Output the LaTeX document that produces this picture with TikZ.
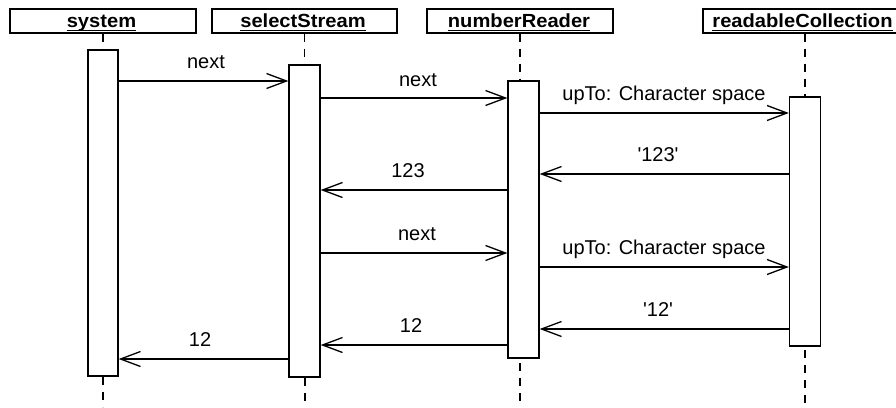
\documentclass[tikz,border=0pt]{standalone}
\usepackage{fontspec}
\setmainfont{Liberation Sans}
\usetikzlibrary{arrows.meta}
\tikzset{
  head/.style={draw, line width=1.4pt, minimum height=24pt, inner sep=0pt, fill=white},
  headtext/.style={inner sep=0pt, anchor=base, font=\fontsize{19}{21}\selectfont\bfseries},
  act/.style={draw, line width=1.3pt, minimum width=31pt, inner sep=0pt, fill=white},
  life/.style={line width=1.1pt, dash pattern=on 8pt off 7pt},
  msg/.style={line width=1.3pt, -{Straight Barb[length=20pt,width=15pt,line width=1.3pt]}},
  lbl/.style={inner sep=0pt, anchor=base, font=\fontsize{20}{22}\selectfont},
  uline/.style={line width=1.3pt}
}
\begin{document}
\begin{tikzpicture}[x=1pt,y=-1pt]
\clip (0,0) rectangle (896,407);
\fill[white] (0,0) rectangle (896,407);

% header boxes
\node[head, minimum width=186pt] (hSys) at (103,21) {};
\node[head, minimum width=185pt] (hSel) at (304.5,21) {};
\node[head, minimum width=186pt] (hNum) at (520,21) {};
\node[head, minimum width=204pt] (hRead) at (805,21) {};

\node[headtext] (tSys) at (101.5,27) {\scalebox{1.06}[1]{system}};
\node[headtext] (tSel) at (303,27) {\scalebox{1.06}[1]{selectStream}};
\node[headtext] (tNum) at (519,27) {\scalebox{1.06}[1]{numberReader}};
\node[headtext] (tRead) at (802.5,27) {\scalebox{1.06}[1]{readableCollection}};
\foreach \t in {tSys,tSel,tNum,tRead}{
  \draw[uline] ([yshift=-3.5pt]\t.base west) -- ([yshift=-3.5pt]\t.base east);
}

% activation boxes
\node[act, minimum width=30pt, minimum height=326pt] (aSys) at (103,213) {};
\node[act, minimum height=312pt] (aSel) at (304.5,221) {};
\node[act, minimum height=277pt] (aNum) at (523.5,219.5) {};
\node[act, minimum height=249pt] (aRead) at (805,221.5) {};

% bottom ends of lifelines
\coordinate (eSys) at (103,407);
\coordinate (eSel) at (305,407);
\coordinate (eNum) at (520,407);
\coordinate (eRead) at (805,407);

% lifelines
\draw[life] (hSys.south) -- (hSys.south |- aSys.north);
\draw[life] (aSys.south |- 0,377) -- (eSys);
\draw[life] (hSel.south) -- (hSel.south |- aSel.north);
\draw[life] (eSel |- 0,378) -- (eSel);
\draw[life] (hNum.south) -- (hNum.south |- aNum.north);
\draw[life] (eNum |- 0,363) -- (eNum);
\draw[life] (hRead.south) -- (hRead.south |- aRead.north);
\draw[life] (eRead |- 0,350) -- (eRead);

% messages
\draw[msg] (aSys.east |- 0,81) -- (aSel.west |- 0,81);
\node[lbl] (m1) at (206,68) {next};

\draw[msg] (aSel.east |- 0,98) -- (aNum.west |- 0,98);
\node[lbl] (m2) at (418,86) {next};

\draw[msg] (aNum.east |- 0,113) -- (aRead.west |- 0,113);
\node[lbl] (m3) at (664,100.5) {upTo: Character space};

\draw[msg] (aRead.west |- 0,174) -- (aNum.east |- 0,174);
\node[lbl] (m4) at (658,161.5) {\textquotesingle123\textquotesingle};

\draw[msg] (aNum.west |- 0,190) -- (aSel.east |- 0,190);
\node[lbl] (m5) at (408,177.5) {123};

\draw[msg] (aSel.east |- 0,253) -- (aNum.west |- 0,253);
\node[lbl] (m6) at (417,240.5) {next};

\draw[msg] (aNum.east |- 0,267) -- (aRead.west |- 0,267);
\node[lbl] (m7) at (664,254.5) {upTo: Character space};

\draw[msg] (aRead.west |- 0,329) -- (aNum.east |- 0,329);
\node[lbl] (m8) at (658,316.5) {\textquotesingle12\textquotesingle};

\draw[msg] (aNum.west |- 0,345) -- (aSel.east |- 0,345);
\node[lbl] (m9) at (411,332.5) {12};

\draw[msg] (aSel.west |- 0,359) -- (aSys.east |- 0,359);
\node[lbl] (m10) at (200,346.5) {12};
\end{tikzpicture}
\end{document}
